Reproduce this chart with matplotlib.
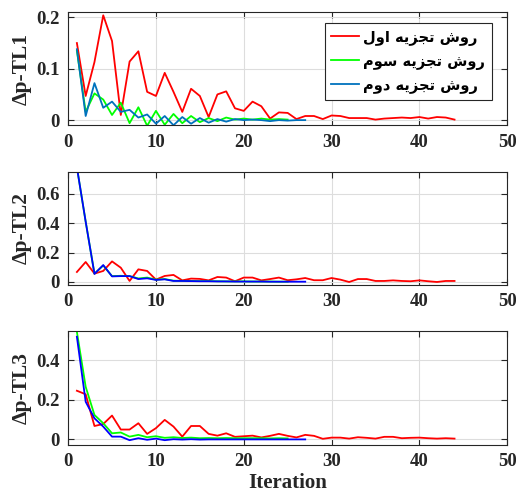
import matplotlib
matplotlib.use("Agg")
import matplotlib.pyplot as plt
from matplotlib.ticker import FuncFormatter

# ---------------- data ----------------
legend_labels = ["روش تجزیه اول", "روش تجزیه سوم", "روش تجزیه دوم"]
ylabels = ["Δp-TL1", "Δp-TL2", "Δp-TL3"]
xlabel = "Iteration"

tl1_red = [0.150, 0.047, 0.113, 0.204, 0.154, 0.010, 0.114, 0.134, 0.055, 0.047,
           0.092, 0.055, 0.016, 0.061, 0.047, 0.006, 0.050, 0.056, 0.023, 0.018,
           0.036, 0.027, 0.003, 0.015, 0.014, 0.002, 0.008, 0.008, 0.002, 0.009,
           0.008, 0.004, 0.004, 0.004, 0.001, 0.003, 0.004, 0.005, 0.004, 0.006,
           0.003, 0.006, 0.005, 0.001]
tl1_green = [0.135, 0.016, 0.052, 0.040, 0.010, 0.034, -0.006, 0.025, -0.011, 0.018,
             -0.009, 0.012, -0.006, 0.008, -0.004, 0.004, -0.002, 0.005, 0.001, 0.003,
             0.001, 0.003, 0.001, 0.002, 0.001]
tl1_blue = [0.138, 0.008, 0.072, 0.024, 0.036, 0.016, 0.020, 0.005, 0.011, -0.007,
            0.008, -0.010, 0.006, -0.007, 0.004, -0.005, 0.002, -0.003, 0.002, 0.000,
            0.001, 0.000, -0.002, 0.000, -0.001, 0.000, 0.000]

tl2_red = [0.068, 0.136, 0.057, 0.075, 0.140, 0.097, 0.007, 0.086, 0.075, 0.016,
           0.041, 0.048, 0.011, 0.023, 0.021, 0.011, 0.034, 0.030, 0.005, 0.030,
           0.030, 0.011, 0.020, 0.030, 0.012, 0.018, 0.027, 0.012, 0.012, 0.027,
           0.016, 0.000, 0.020, 0.020, 0.007, 0.007, 0.011, 0.007, 0.005, 0.011,
           0.005, 0.000, 0.007, 0.007]
tl2_green = [0.780, 0.410, 0.057, 0.112, 0.040, 0.042, 0.040, 0.024, 0.030, 0.016,
             0.020, 0.009, 0.008, 0.007, 0.006, 0.006, 0.005, 0.004, 0.004, 0.004,
             0.003, 0.003, 0.003, 0.002, 0.002]
tl2_blue = [0.780, 0.410, 0.055, 0.115, 0.038, 0.040, 0.040, 0.020, 0.025, 0.014,
            0.018, 0.007, 0.007, 0.006, 0.005, 0.005, 0.004, 0.004, 0.003, 0.003,
            0.003, 0.003, 0.002, 0.002, 0.002, 0.002, 0.002]

tl3_red = [0.246, 0.228, 0.067, 0.077, 0.120, 0.049, 0.049, 0.081, 0.027, 0.056,
           0.098, 0.064, 0.013, 0.067, 0.067, 0.027, 0.018, 0.030, 0.012, 0.015,
           0.018, 0.009, 0.017, 0.027, 0.017, 0.009, 0.022, 0.017, 0.002, 0.008,
           0.008, 0.003, 0.010, 0.007, 0.003, 0.012, 0.012, 0.005, 0.007, 0.008,
           0.005, 0.003, 0.005, 0.003]
tl3_green = [0.545, 0.266, 0.123, 0.081, 0.030, 0.034, 0.013, 0.022, 0.010, 0.015,
             0.007, 0.010, 0.006, 0.008, 0.005, 0.006, 0.005, 0.006, 0.005, 0.005,
             0.005, 0.005, 0.004, 0.005, 0.004]
tl3_blue = [0.520, 0.190, 0.106, 0.064, 0.013, 0.013, -0.005, 0.005, -0.003, 0.003,
            -0.005, 0.000, -0.002, 0.000, -0.002, -0.001, -0.001, -0.001, -0.001, -0.001,
            -0.001, -0.001, -0.001, -0.001, -0.001, -0.001, -0.001]

panels = [(tl1_red, tl1_green, tl1_blue), (tl2_red, tl2_green, tl2_blue),
          (tl3_red, tl3_green, tl3_blue)]
ylims = [(-0.01, 0.21), (-0.02, 0.75), (-0.03, 0.55)]
yticks = [[0, 0.1, 0.2], [0, 0.2, 0.4, 0.6], [0, 0.2, 0.4]]
xticks = [0, 10, 20, 30, 40, 50]
blue_colors = ["#0072BD", "#0000FF", "#0000FF"]

# ---------------- minimal Arabic-script shaping ----------------
# (isolated, final, initial, medial); right-joining letters have only 2 forms
FORMS = {
    "ر": ("\uFEAD", "\uFEAE"), "و": ("\uFEED", "\uFEEE"), "ز": ("\uFEAF", "\uFEB0"),
    "ا": ("\uFE8D", "\uFE8E"), "د": ("\uFEA9", "\uFEAA"),
    "ش": ("\uFEB5", "\uFEB6", "\uFEB7", "\uFEB8"),
    "ت": ("\uFE95", "\uFE96", "\uFE97", "\uFE98"),
    "ج": ("\uFE9D", "\uFE9E", "\uFE9F", "\uFEA0"),
    "ی": ("\uFEEF", "\uFEF0", "\uFEF3", "\uFEF4"),
    "ه": ("\uFEE9", "\uFEEA", "\uFEEB", "\uFEEC"),
    "ل": ("\uFEDD", "\uFEDE", "\uFEDF", "\uFEE0"),
    "س": ("\uFEB1", "\uFEB2", "\uFEB3", "\uFEB4"),
    "م": ("\uFEE1", "\uFEE2", "\uFEE3", "\uFEE4"),
}


def shape_rtl(text):
    out = []
    for i, ch in enumerate(text):
        if ch not in FORMS:
            out.append(ch)
            continue
        prev = text[i - 1] if i > 0 else None
        nxt = text[i + 1] if i + 1 < len(text) else None
        jp = prev in FORMS and len(FORMS[prev]) == 4
        jn = nxt in FORMS and len(FORMS[ch]) == 4
        f = FORMS[ch]
        if jp and jn:
            out.append(f[3])
        elif jp:
            out.append(f[1])
        elif jn:
            out.append(f[2])
        else:
            out.append(f[0])
    return "".join(out)[::-1]


# ---------------- figure ----------------
plt.rcParams["font.family"] = ["Liberation Serif", "DejaVu Serif"]
plt.rcParams["font.weight"] = "bold"

fig = plt.figure(figsize=(5.16, 4.99), dpi=100)
positions = [(0.132, 0.749, 0.851, 0.2265),
             (0.132, 0.429, 0.851, 0.227),
             (0.132, 0.108, 0.851, 0.229)]

fmt = FuncFormatter(lambda v, p: "%g" % v)
for k, (pos, (r, g, b)) in enumerate(zip(positions, panels)):
    ax = fig.add_axes(pos)
    ax.plot(range(1, len(r) + 1), r, color="#FF0000", lw=1.3, label=shape_rtl(legend_labels[0]))
    ax.plot(range(1, len(g) + 1), g, color="#00FF00", lw=1.3, label=shape_rtl(legend_labels[1]))
    ax.plot(range(1, len(b) + 1), b, color=blue_colors[k], lw=1.3, label=shape_rtl(legend_labels[2]))
    ax.set_xlim(0, 50)
    ax.set_ylim(*ylims[k])
    ax.set_xticks(xticks)
    ax.set_yticks(yticks[k])
    ax.yaxis.set_major_formatter(fmt)
    ax.grid(True, color="#DDDDDD", lw=0.8)
    ax.set_axisbelow(True)
    ax.tick_params(direction="in", top=True, right=True, length=4, width=0.8,
                   labelsize=13.5, colors="#262626", pad=6)
    for lab in ax.get_xticklabels() + ax.get_yticklabels():
        lab.set_fontweight("bold")
    for s in ax.spines.values():
        s.set_color("#262626")
        s.set_linewidth(0.8)
    ax.set_ylabel(ylabels[k], fontsize=15.5, fontweight="bold", color="#262626", labelpad=3)
    if k == 0:
        leg = ax.legend(loc="upper right", bbox_to_anchor=(0.965, 0.905), borderaxespad=0,
                        prop={"family": "DejaVu Sans", "weight": "bold", "size": 10.5},
                        fancybox=False, framealpha=1, edgecolor="#262626",
                        handlelength=1.9, handletextpad=0.3, borderpad=0.45,
                        labelspacing=0.55)
        leg.get_frame().set_linewidth(0.8)
    if k == 2:
        ax.set_xlabel(xlabel, fontsize=15, fontweight="bold", color="#262626", labelpad=2)

fig.savefig("out.png", dpi=100)
